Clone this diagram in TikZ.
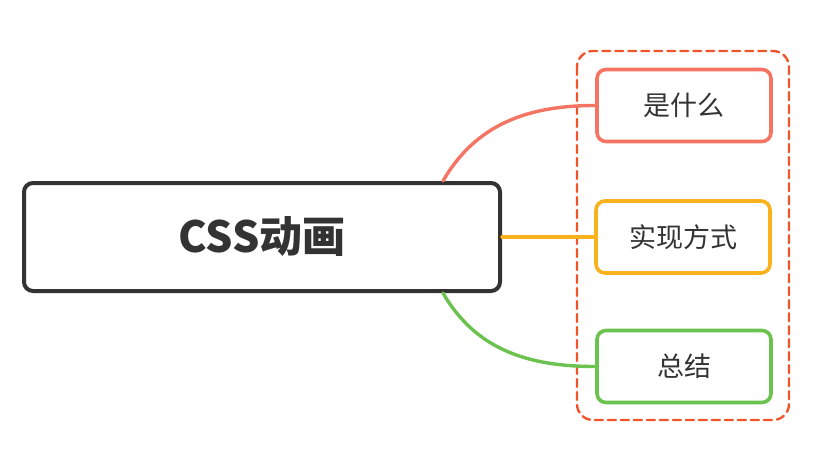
\documentclass[tikz,border=0pt]{standalone}
\usepackage{fontspec}
\newfontfamily\cjk{Noto Sans CJK SC}
\usepackage{tikz}
\usetikzlibrary{arrows, calc}

\definecolor{ink}{HTML}{333333}
\definecolor{redline}{HTML}{F57463}
\definecolor{orangeline}{HTML}{F9B21C}
\definecolor{greenline}{HTML}{6CC24E}
\definecolor{dashred}{HTML}{F0542A}

\begin{document}
\begin{tikzpicture}[x=1pt,y=-1pt,-,line cap=round,
  main node/.style={rectangle,draw=ink,line width=4pt,rounded corners=9pt,fill=white,
    minimum width=476pt,minimum height=108pt,text=ink,font=\cjk\bfseries\fontsize{43}{46}\selectfont},
  sub node/.style={rectangle,line width=3.6pt,rounded corners=9pt,fill=white,
    minimum width=174pt,minimum height=72pt,text=ink,font=\cjk\fontsize{27}{30}\selectfont},
  link/.style={line width=3.4pt}]

    \useasboundingbox (0,0) rectangle (836,452);

    % group frame
    \draw[dashred, line width=2.4pt, dash pattern=on 8pt off 5pt, rounded corners=16pt]
        (577,51) rectangle (789,420);

    \node[main node] (css) at (262,237) {CSS动画};
    \node[sub node, draw=redline] (1) at (684,105.5) {是什么};
    \node[sub node, draw=orangeline] (2) at (683,237) {实现方式};
    \node[sub node, draw=greenline] (3) at (684,366.5) {总结};

    \coordinate (up) at ($(css.north east)+(-59,0)$);
    \coordinate (down) at ($(css.south east)+(-59,0)$);

    \path (up) edge [redline, link, out=60, in=180] (1.west);
    \path (css.east) edge [orangeline, link] (2.west);
    \path (down) edge [greenline, link, out=-60, in=180] (3.west);

\end{tikzpicture}
\end{document}
